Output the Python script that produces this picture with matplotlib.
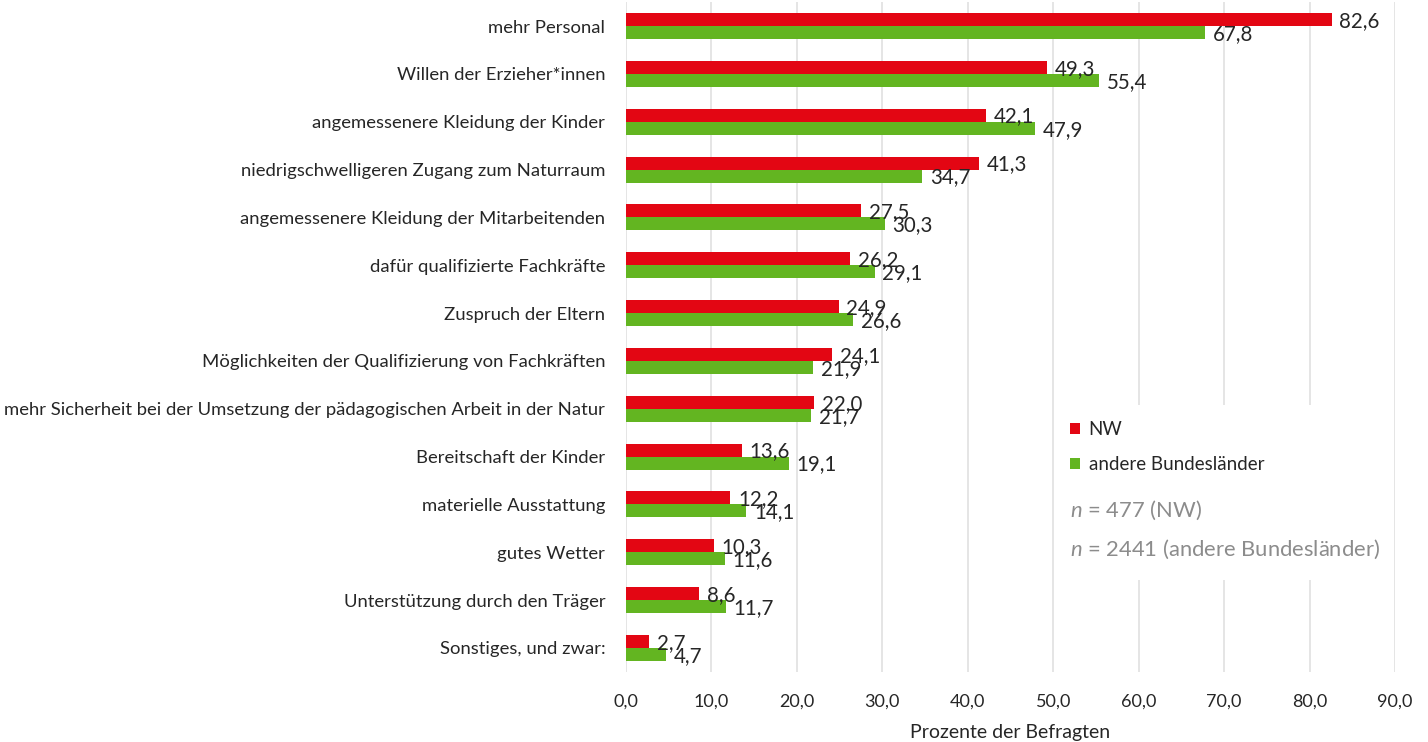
import matplotlib
matplotlib.use("Agg")
import matplotlib.pyplot as plt
from matplotlib.patches import Patch, Rectangle
import numpy as np

categories = [
    "mehr Personal",
    "Willen der Erzieher*innen",
    "angemessenere Kleidung der Kinder",
    "niedrigschwelligeren Zugang zum Naturraum",
    "angemessenere Kleidung der Mitarbeitenden",
    "dafür qualifizierte Fachkräfte",
    "Zuspruch der Eltern",
    "Möglichkeiten der Qualifizierung von Fachkräften",
    "mehr Sicherheit bei der Umsetzung der pädagogischen Arbeit in der Natur",
    "Bereitschaft der Kinder",
    "materielle Ausstattung",
    "gutes Wetter",
    "Unterstützung durch den Träger",
    "Sonstiges, und zwar:",
]
nw_values = [82.6, 49.3, 42.1, 41.3, 27.5, 26.2, 24.9, 24.1, 22.0, 13.6, 12.2, 10.3, 8.6, 2.7]
other_values = [67.8, 55.4, 47.9, 34.7, 30.3, 29.1, 26.6, 21.9, 21.7, 19.1, 14.1, 11.6, 11.7, 4.7]
series_names = ["NW", "andere Bundesländer"]
x_ticks = [0, 10, 20, 30, 40, 50, 60, 70, 80, 90]
x_label = "Prozente der Befragten"
n_notes = ["477 (NW)", "2441 (andere Bundesländer)"]

RED = "#E30613"
GREEN = "#63B521"
FONT = "Lato"

plt.rcParams["font.family"] = [FONT, "DejaVu Sans"]
plt.rcParams["mathtext.fontset"] = "custom"
plt.rcParams["mathtext.it"] = FONT + ":italic"
plt.rcParams["mathtext.rm"] = FONT

fig = plt.figure(figsize=(14.28, 7.42), dpi=100)
ax = fig.add_axes([626 / 1428, 1 - 671.9 / 742, (1395 - 626) / 1428, 669.8 / 742])

y = np.arange(len(categories))
h = 0.272
b1 = ax.barh(y - h / 2, nw_values, height=h, color=RED, zorder=3)
b2 = ax.barh(y + h / 2, other_values, height=h, color=GREEN, zorder=3)

fmt = lambda v: f"{v:.1f}".replace(".", ",")
for bars, vals in ((b1, nw_values), (b2, other_values)):
    for rect, v in zip(bars, vals):
        ax.annotate(fmt(v), (rect.get_width(), rect.get_y() + rect.get_height() / 2),
                    xytext=(5.5, -1), textcoords="offset points", ha="left", va="center",
                    fontsize=14.8, color="#262626", zorder=5)

ax.set_xlim(0, 90)
ax.set_ylim(len(categories) - 0.5, -0.5)
ax.set_yticks(y)
ax.set_yticklabels(categories, fontsize=13.3, color="#262626")
ax.set_xticks(x_ticks)
ax.set_xticklabels([fmt(t) for t in x_ticks], fontsize=13, color="#262626")
ax.tick_params(axis="both", length=0)
ax.tick_params(axis="y", pad=15)
ax.tick_params(axis="x", pad=16)
for s in ax.spines.values():
    s.set_visible(False)
ax.grid(axis="x", color="#dedede", linewidth=1.1, zorder=0)
ax.set_axisbelow(True)
ax.set_xlabel(x_label, fontsize=14, color="#262626", labelpad=10)

# white panel behind legend and notes
ax.add_patch(Rectangle((51.0, 7.92), 38.0, 3.66, transform=ax.transData,
                       facecolor="white", edgecolor="none", zorder=2))

handles = [Patch(facecolor=RED, edgecolor="none"), Patch(facecolor=GREEN, edgecolor="none")]
leg = ax.legend(handles, series_names, loc="upper left",
                bbox_to_anchor=((1070 - 626) / 769, 1 - (421 - 2.1) / 669.8),
                frameon=False, fontsize=13.5, handlelength=0.55, handleheight=0.55,
                handletextpad=0.45, labelspacing=0.95, borderaxespad=0, borderpad=0)
for t in leg.get_texts():
    t.set_color("#262626")

ax.text((1070 - 626) / 769, 1 - (510 - 2.1) / 669.8, r"$\it{n}$ = " + n_notes[0],
        transform=ax.transAxes, fontsize=15.8, color="#8c8c8c", ha="left", va="center", zorder=6)
ax.text((1070 - 626) / 769, 1 - (549 - 2.1) / 669.8, r"$\it{n}$ = " + n_notes[1],
        transform=ax.transAxes, fontsize=15.8, color="#8c8c8c", ha="left", va="center", zorder=6)

fig.savefig("out.png", dpi=100)
